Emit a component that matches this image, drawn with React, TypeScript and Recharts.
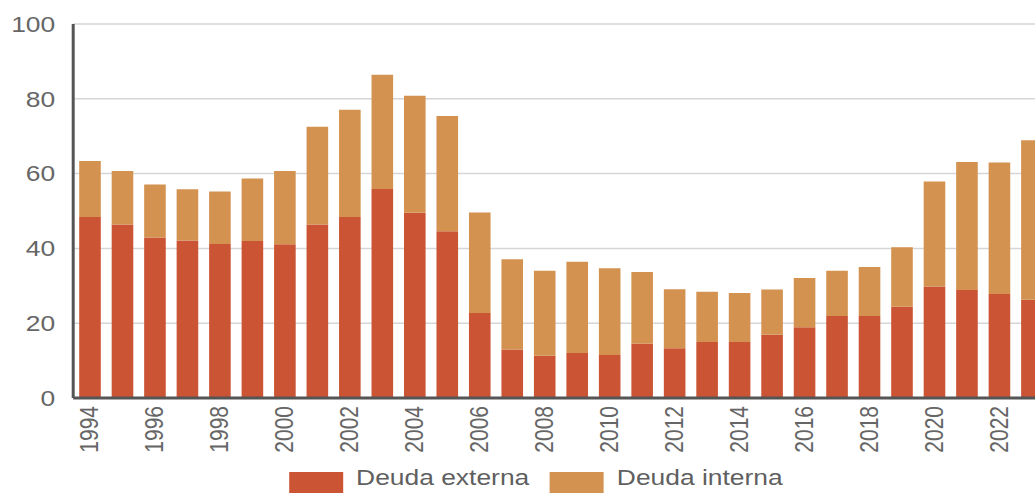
import { BarChart, Bar, XAxis, YAxis, CartesianGrid, Legend } from "recharts";

const years = [
  "1994", "1995", "1996", "1997", "1998", "1999", "2000", "2001", "2002", "2003",
  "2004", "2005", "2006", "2007", "2008", "2009", "2010", "2011", "2012", "2013",
  "2014", "2015", "2016", "2017", "2018", "2019", "2020", "2021", "2022", "2023",
];

const deudaExterna = [
  48.4, 46.4, 42.9, 42.1, 41.2, 42.0, 41.1, 46.4, 48.4, 55.9,
  49.5, 44.6, 22.7, 13.0, 11.3, 12.0, 11.5, 14.5, 13.3, 15.0,
  15.0, 16.9, 18.9, 21.9, 21.9, 24.4, 29.8, 28.9, 27.8, 26.3,
];

const deudaInterna = [
  15.0, 14.3, 14.2, 13.7, 14.0, 16.7, 19.6, 26.1, 28.7, 30.5,
  31.3, 30.8, 26.9, 24.1, 22.7, 24.4, 23.2, 19.2, 15.8, 13.4,
  13.1, 12.1, 13.2, 12.1, 13.1, 15.9, 28.1, 34.2, 35.2, 42.6,
];

const yTicks = [0, 20, 40, 60, 80, 100];

const RED = "#cb5434";
const ORANGE = "#d49250";
const TEXT = "#666666";

const data = years.map((year, i) => ({
  year,
  externa: deudaExterna[i],
  interna: deudaInterna[i],
}));

// rotated year labels
function YearTick(props: any) {
  const { x, y, payload } = props;
  return (
    <text
      x={x}
      y={y}
      transform={`rotate(-90, ${x}, ${y})`}
      textAnchor="end"
      dominantBaseline="central"
      fill={TEXT}
      fontSize={21}
    >
      {payload.value}
    </text>
  );
}

function LegendContent() {
  const items = [
    { label: "Deuda externa", color: RED },
    { label: "Deuda interna", color: ORANGE },
  ];
  return (
    <div
      style={{
        height: 38,
        display: "flex",
        alignItems: "flex-end",
        justifyContent: "center",
        paddingLeft: 37,
      }}
    >
      {items.map((it) => (
        <div
          key={it.label}
          style={{ display: "flex", alignItems: "flex-end", marginRight: 17 }}
        >
          <div style={{ width: 45, height: 21, background: it.color }} />
          <span
            style={{
              marginLeft: 11,
              marginBottom: 2,
              fontSize: 22,
              lineHeight: "normal",
              color: "#5f5f5f",
            }}
          >
            {it.label}
          </span>
        </div>
      ))}
    </div>
  );
}

export default function App() {
  return (
    <div
      style={{
        position: "absolute",
        left: 0,
        top: 0,
        width: 1035,
        height: 493,
        overflow: "hidden",
        background: "#fff",
      }}
    >
      <div
        style={{
          width: 890,
          height: 493,
          transform: "scaleX(1.2)",
          transformOrigin: "0 0",
        }}
      >
        <BarChart
          width={890}
          height={493}
          data={data}
          margin={{ top: 24, right: 17, bottom: 0, left: 0 }}
          style={{ fontFamily: "'Liberation Sans', Arial, sans-serif" }}
        >
          <CartesianGrid vertical={false} stroke="#d6d6d6" strokeWidth={1.5} />
          <XAxis
            dataKey="year"
            interval={1}
            height={57}
            tickLine={false}
            tickSize={0}
            tickMargin={8}
            axisLine={{ stroke: "#555", strokeWidth: 3 }}
            tick={<YearTick />}
          />
          <YAxis
            width={61}
            domain={[0, 100]}
            ticks={yTicks}
            tickLine={false}
            tickSize={0}
            tickMargin={15}
            axisLine={{ stroke: "#555", strokeWidth: 2.5 }}
            tick={{ fill: TEXT, fontSize: 22 }}
          />
          <Legend verticalAlign="bottom" height={38} content={<LegendContent />} />
          <Bar
            dataKey="externa"
            name="Deuda externa"
            stackId="a"
            fill={RED}
            barSize={18}
            isAnimationActive={false}
          />
          <Bar
            dataKey="interna"
            name="Deuda interna"
            stackId="a"
            fill={ORANGE}
            barSize={18}
            isAnimationActive={false}
          />
        </BarChart>
      </div>
    </div>
  );
}
